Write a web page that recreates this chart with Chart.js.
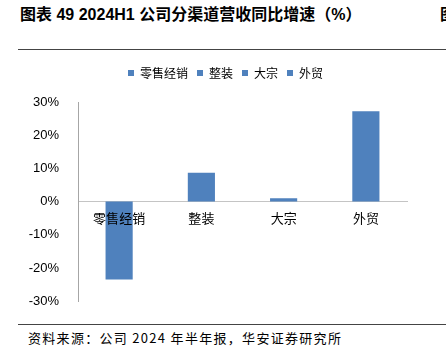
<!DOCTYPE html>
<html>
<head>
<meta charset="utf-8">
<script src="https://cdn.jsdelivr.net/npm/chart.js@4.4.1/dist/chart.umd.min.js"></script>
<style>
  body{margin:0;width:446px;height:354px;background:#fff;position:relative;overflow:hidden;
       font-family:"Liberation Sans",Arial,"Noto Sans CJK SC",sans-serif;color:#000;}
  #title{position:absolute;left:20px;top:1px;font-size:16px;font-weight:bold;white-space:nowrap;}
  #next{position:absolute;left:440px;top:1px;font-size:16px;font-weight:bold;}
  .rule{position:absolute;left:18px;right:0;height:1px;background:#444;}
  #foot{position:absolute;left:28px;top:328px;font-size:13px;letter-spacing:1.3px;white-space:nowrap;
        font-family:"Noto Sans CJK SC",sans-serif;}
  #wrap{position:absolute;left:0;top:55px;}
</style>
</head>
<body>
<div id="title">图表 49 2024H1 公司分渠道营收同比增速（%）</div>
<div id="next">图</div>
<div class="rule" style="top:49px"></div>
<div id="wrap"><canvas id="chart" width="446" height="265"></canvas></div>
<div class="rule" style="top:324px"></div>
<div id="foot">资料来源：公司 2024 年半年报，华安证券研究所</div>

<script>
/* ================= Data ================= */
const channels = ['零售经销', '整装', '大宗', '外贸'];
const growth = [-23.5, 8.7, 1.0, 27.2];   // 同比增速 %
const yTicks = [-30, -20, -10, 0, 10, 20, 30];

const blue = '#4F81BD';

/* legend: extra room below it, and centred on the page rather than the padded box */
const legendTweak = {
  id: 'legendTweak',
  beforeInit(chart){
    const lg = chart.legend;
    const fit = lg.fit;
    lg.fit = function(){
      fit.call(this);
      this.height += 13;
    };
    const draw = lg.draw;
    lg.draw = function(){
      this.ctx.save();
      this.ctx.translate(22, 0);
      draw.call(this);
      this.ctx.restore();
    };
  }
};

/* ================= Chart ================= */
const ctx = document.getElementById('chart');

let chart = new Chart(ctx, {
  type: 'bar',
  data: {
    labels: channels,
    datasets: [{
      label: '同比增速',
      data: growth,
      backgroundColor: blue,
      barPercentage: 0.33,
      categoryPercentage: 1
    }]
  },
  options: {
    responsive: false,
    animation: false,
    devicePixelRatio: 1,
    layout: { padding: { left: 0, right: 39, top: 3, bottom: 17 } },
    plugins: {
      tooltip: { enabled: false },
      legend: {
        display: true,
        labels: {
          boxWidth: 6,
          boxHeight: 6,
          padding: 9,
          color: '#000',
          font: { size: 12, family: '"Noto Sans CJK SC", sans-serif' },
          generateLabels: () => channels.map(c => ({
            text: c, fillStyle: blue, strokeStyle: blue, lineWidth: 0, hidden: false
          }))
        }
      }
    },
    scales: {
      x: {
        position: { y: 0 },
        grid: { display: false },
        border: { display: true, color: '#c4c4c4', width: 1 },
        ticks: {
          z: 1,
          padding: 1,
          color: '#000',
          font: { size: 13, family: '"Noto Sans CJK SC", sans-serif' }
        }
      },
      y: {
        min: -30,
        max: 30,
        afterFit: s => { s.width = 78; },
        afterBuildTicks: s => { s.ticks = yTicks.map(v => ({ value: v })); },
        grid: { display: false },
        border: { display: true, color: '#a6a6a6', width: 1 },
        ticks: {
          padding: 11,
          color: '#000',
          font: { size: 13, family: '"Liberation Sans", Arial, sans-serif' },
          callback: v => v + '%'
        }
      }
    }
  },
  plugins: [legendTweak]
});
</script>
</body>
</html>
